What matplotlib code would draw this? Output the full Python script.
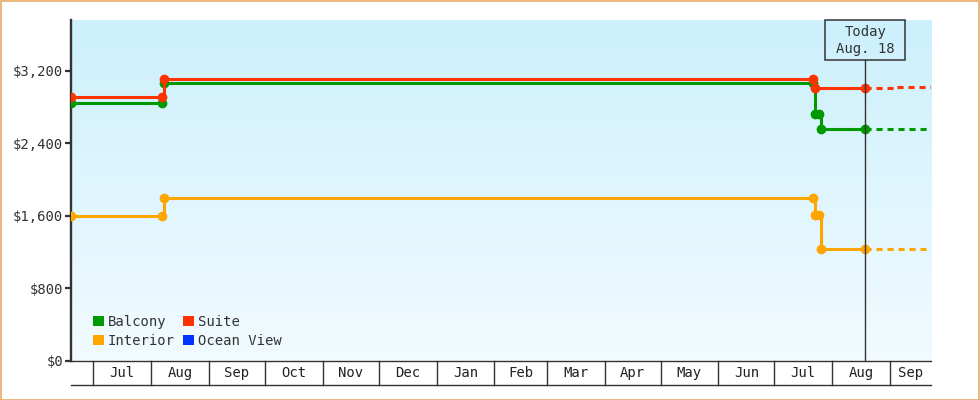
import matplotlib
matplotlib.use("Agg")
import matplotlib.pyplot as plt
import matplotlib.dates as mdates
import matplotlib.patches as mpatches
import numpy as np
import pandas as pd

# ---------------- data ----------------
x_start = "2022-06-19"
x_end = "2023-09-23"
today = "2023-08-18 16:00"
today_label = "Today\nAug. 18"

balcony_dates = ["2022-06-19", "2022-08-07", "2022-08-08", "2023-07-22", "2023-07-23",
                 "2023-07-25", "2023-07-26", "2023-08-18 16:00"]
balcony_vals = [2850, 2850, 3067, 3067, 2720, 2720, 2560, 2560]

suite_dates = ["2022-06-19", "2022-08-07", "2022-08-08", "2023-07-22", "2023-07-23",
               "2023-08-18 16:00"]
suite_vals = [2906, 2906, 3105, 3105, 3010, 3010]

interior_dates = ["2022-06-19", "2022-08-07", "2022-08-08", "2023-07-22", "2023-07-23",
                  "2023-07-25", "2023-07-26", "2023-08-18 16:00"]
interior_vals = [1600, 1600, 1800, 1800, 1611, 1611, 1240, 1240]

# forecast (dashed)
balcony_fc_dates = ["2023-08-18 16:00", "2023-09-23"]
balcony_fc_vals = [2560, 2560]
suite_fc_dates = ["2023-08-18 16:00", "2023-09-05", "2023-09-23"]
suite_fc_vals = [3010, 3024, 3024]
interior_fc_dates = ["2023-08-18 16:00", "2023-09-23"]
interior_fc_vals = [1240, 1240]

series_names = ["Balcony", "Interior", "Suite", "Ocean View"]
series_colors = ["#009900", "#ffa500", "#ff3300", "#0033ff"]

y_ticks = [0, 800, 1600, 2400, 3200]
y_tick_labels = ["$0", "$800", "$1,600", "$2,400", "$3,200"]
y_max = 3760

# ---------------- figure ----------------
W, H = 980, 400
fig = plt.figure(figsize=(W / 100, H / 100), dpi=100)
fig.patch.set_facecolor("white")
ax = fig.add_axes([71 / W, 1 - 361 / H, (931 - 71) / W, (361 - 20) / H])
mono = "DejaVu Sans Mono"
fs = 10
txtc = "#333333"

# gradient background
grad = np.linspace(0, 1, 256).reshape(-1, 1)
top = np.array([204, 240, 252]) / 255
bot = np.array([242, 251, 255]) / 255
img = top[None, None, :] * (1 - grad[:, :, None]) + bot[None, None, :] * grad[:, :, None]
ax.imshow(img, extent=[0, 1, 0, 1], transform=ax.transAxes, aspect="auto", zorder=0)

td = lambda s: mdates.date2num(pd.to_datetime(s))
xs, xe, xt = td(x_start), td(x_end), td(today)

lw = 2.2
ms = 6.0
def draw(dates, vals, fcd, fcv, color, z):
    d = [td(s) for s in dates]
    ax.plot(d, vals, drawstyle="steps-post", color=color, lw=lw, zorder=z,
            solid_joinstyle="miter")
    ax.plot(d, vals, ls="none", marker="o", ms=ms, color=color, mec=color, zorder=z + 0.5)
    f = [td(s) for s in fcd]
    ax.plot(f, fcv, drawstyle="steps-post", color=color, lw=lw, dashes=(2.0, 1.6), zorder=z)

draw(balcony_dates, balcony_vals, balcony_fc_dates, balcony_fc_vals, series_colors[0], 3)
draw(interior_dates, interior_vals, interior_fc_dates, interior_fc_vals, series_colors[1], 3)
draw(suite_dates, suite_vals, suite_fc_dates, suite_fc_vals, series_colors[2], 4)

ax.set_xlim(xs, xe)
ax.set_ylim(0, y_max)

# spines
for s in ["top", "right"]:
    ax.spines[s].set_visible(False)
ax.spines["left"].set_color(txtc)
ax.spines["left"].set_linewidth(1.7)
ax.spines["bottom"].set_color(txtc)
ax.spines["bottom"].set_linewidth(1)
ax.set_yticks(y_ticks)
ax.set_yticklabels(y_tick_labels, fontfamily=mono, fontsize=fs, color=txtc)
ax.tick_params(axis="y", direction="out", length=4.5, width=1.6, color=txtc, pad=1.0)
ax.set_xticks([])

# month cells below axis
months = pd.date_range(pd.to_datetime(x_start), pd.to_datetime(x_end), freq="MS")
bounds = [xs] + [td(m) for m in months] + [xe]
cell_h = 24 / (361 - 20)
for m in months:
    ax.plot([td(m), td(m)], [0, -cell_h], transform=ax.get_xaxis_transform(),
            color=txtc, lw=1, clip_on=False)
ax.plot([xs, xe], [-cell_h, -cell_h], transform=ax.get_xaxis_transform(),
        color=txtc, lw=1, clip_on=False)
for i in range(1, len(bounds) - 1):
    a, b = bounds[i], bounds[i + 1]
    label = mdates.num2date(a).strftime("%b")
    ax.text((a + b) / 2, -cell_h / 2, label, transform=ax.get_xaxis_transform(),
            ha="center", va="center", fontfamily=mono, fontsize=fs, color="#222222",
            clip_on=False)

# today line + box
box_frac = (60 - 20) / (361 - 20)
ax.axvline(xt, ymin=0, ymax=1 - box_frac, color=txtc, lw=1, zorder=5)
fig.canvas.draw()
px = ax.transData.transform((xt, 0))[0]
bw, bh = 80, 40
rect = mpatches.Rectangle(((px - bw / 2) / W, 1 - 60 / H), bw / W, bh / H,
                          transform=fig.transFigure, fc="none", ec=txtc, lw=1.1, zorder=6)
fig.patches.append(rect)
fig.text(px / W, 1 - 40.5 / H, today_label, ha="center", va="center",
         fontfamily=mono, fontsize=fs, color=txtc, linespacing=1.2)

# legend
handles = [mpatches.Patch(facecolor=c, edgecolor="none", label=n)
           for n, c in zip(series_names, series_colors)]
leg = ax.legend(handles=handles, ncol=2, loc="lower left",
                bbox_to_anchor=(22 / 860, 13 / 341), frameon=False,
                handlelength=0.8, handleheight=0.8, handletextpad=0.25,
                columnspacing=0.62, labelspacing=0.36, borderpad=0, borderaxespad=0,
                prop={"family": mono, "size": fs})
for t in leg.get_texts():
    t.set_color(txtc)

# outer border
fig.patches.append(mpatches.Rectangle((0.5 / W, 0.5 / H), 1 - 1.5 / W, 1 - 1.5 / H,
                                      transform=fig.transFigure, fc="none",
                                      ec="#e8aa66", lw=1.2))

fig.savefig("out.png", dpi=100)
